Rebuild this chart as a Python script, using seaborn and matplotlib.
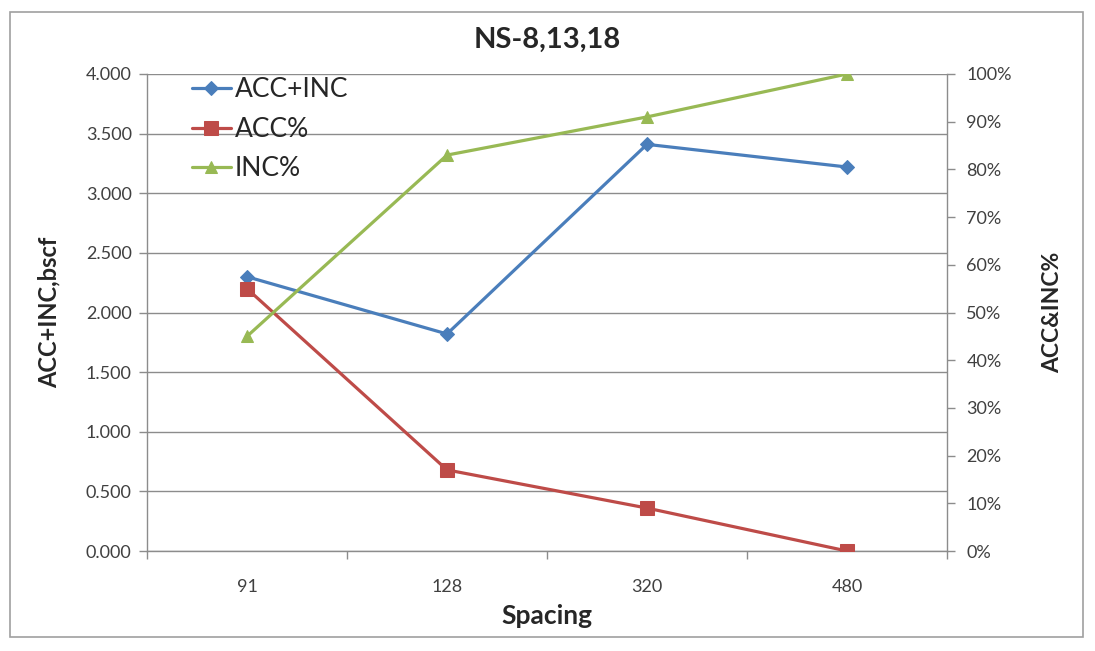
import matplotlib
matplotlib.use("Agg")
import matplotlib.pyplot as plt
from matplotlib.patches import Rectangle
from matplotlib.ticker import FixedLocator, NullFormatter, FuncFormatter
import seaborn as sns
import pandas as pd

spacing = ["91", "128", "320", "480"]
acc_inc = [2.30, 1.82, 3.41, 3.22]      # bscf, left axis
acc_pct = [55, 17, 9, 0]                # %, right axis
inc_pct = [45, 83, 91, 100]             # %, right axis

sns.set_theme(style="white")
plt.rcParams["font.family"] = ["Lato", "DejaVu Sans"]

BLUE, RED, GREEN = "#4A7EBB", "#BE4B48", "#98B954"
GRID = "#8C8C8C"

pos = list(range(len(spacing)))
df = pd.DataFrame({"pos": pos, "acc_inc": acc_inc,
                   "acc_pct": acc_pct, "inc_pct": inc_pct})

fig = plt.figure(figsize=(10.95, 6.51), dpi=100)
ax = fig.add_axes([147 / 1095, 1 - 551 / 651, 800 / 1095, 477 / 651])
ax2 = ax.twinx()

sns.lineplot(data=df, x="pos", y="acc_inc", ax=ax, color=BLUE, lw=2.3,
             marker="D", markersize=7, markeredgecolor=BLUE, label="ACC+INC",
             legend=False, zorder=3)
sns.lineplot(data=df, x="pos", y="acc_pct", ax=ax2, color=RED, lw=2.3,
             marker="s", markersize=10, markeredgecolor=RED, label="ACC%",
             legend=False, zorder=3)
sns.lineplot(data=df, x="pos", y="inc_pct", ax=ax2, color=GREEN, lw=2.3,
             marker="^", markersize=8.5, markeredgecolor=GREEN, label="INC%",
             legend=False, zorder=3)

# left axis
ax.set_ylim(0, 4)
ax.set_yticks([i * 0.5 for i in range(9)])
ax.yaxis.set_major_formatter(FuncFormatter(lambda v, p: f"{v:.3f}"))
ax.yaxis.grid(True, color=GRID, lw=1.0)
ax.set_axisbelow(True)
ax.set_ylabel("ACC+INC,bscf", fontsize=17, fontweight="bold", labelpad=18)

# right axis
ax2.set_ylim(0, 100)
ax2.set_yticks(range(0, 101, 10))
ax2.yaxis.set_major_formatter(FuncFormatter(lambda v, p: f"{int(v)}%"))
ax2.set_ylabel("ACC&INC%", fontsize=16.5, fontweight="bold", labelpad=22)
ax2.grid(False)

# category axis
ax.set_xlim(-0.5, len(spacing) - 0.5)
ax.set_xticks(pos)
ax.set_xticklabels(spacing)
ax.xaxis.set_minor_locator(FixedLocator([p - 0.5 for p in range(len(spacing) + 1)]))
ax.xaxis.set_minor_formatter(NullFormatter())
ax.set_xlabel("Spacing", fontsize=19, fontweight="bold", labelpad=7)

for a in (ax, ax2):
    for s in a.spines.values():
        s.set_visible(False)
ax.spines["left"].set_visible(True)
ax.spines["bottom"].set_visible(True)
ax2.spines["right"].set_visible(True)
for s in (ax.spines["left"], ax.spines["bottom"], ax2.spines["right"]):
    s.set_color(GRID)
    s.set_linewidth(1.0)

ax.tick_params(axis="y", which="major", length=6, width=1, color=GRID,
               labelsize=13, labelcolor="#404040", direction="out", left=True, pad=5)
ax.tick_params(axis="x", which="major", length=0, labelsize=13,
               labelcolor="#404040", pad=20)
ax.tick_params(axis="x", which="minor", length=6, width=1, color=GRID,
               direction="out", bottom=True)
ax2.tick_params(axis="y", length=6, width=1, color=GRID, labelsize=13,
                labelcolor="#404040", direction="out", right=True, pad=8)

ax.set_title("NS-8,13,18", fontsize=21, fontweight="bold", pad=19)

h1, l1 = ax.get_legend_handles_labels()
h2, l2 = ax2.get_legend_handles_labels()
leg = ax2.legend(h1 + h2, l1 + l2, loc="upper left", frameon=False,
                 fontsize=19, bbox_to_anchor=(0.0425, 1.015),
                 handlelength=1.5, handletextpad=0.15, labelspacing=0.55,
                 borderaxespad=0)
for t in leg.get_texts():
    t.set_color("#262626")

# chart border
fig.patches.append(Rectangle((10 / 1095, 1 - 637 / 651), 1073 / 1095, 625 / 651,
                             transform=fig.transFigure, fill=False,
                             edgecolor="#A0A0A0", lw=1.2))

fig.savefig("out.png", dpi=100)
